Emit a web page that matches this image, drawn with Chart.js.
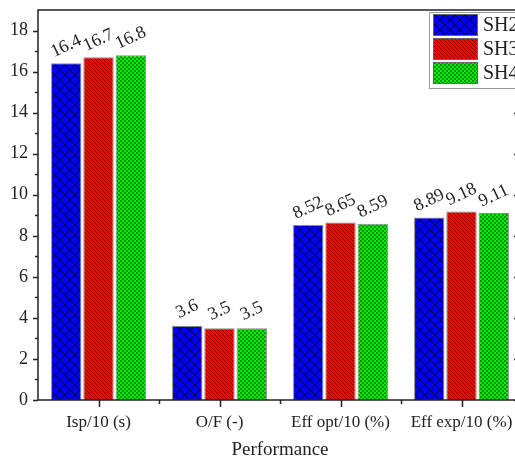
<!DOCTYPE html>
<html><head><meta charset="utf-8">
<script src="https://cdn.jsdelivr.net/npm/chart.js@4"></script>
<style>html,body{margin:0;padding:0;overflow:hidden;background:#fff}#wrap{width:530px;height:461px;position:relative}</style>
</head><body><div id="wrap"><canvas id="c" width="530" height="461"></canvas></div>
<script>
const categories = ['Isp/10 (s)', 'O/F (-)', 'Eff opt/10 (%)', 'Eff exp/10 (%)'];
const seriesNames = ['SH2', 'SH3', 'SH4'];
const sh2 = [16.4, 3.6, 8.52, 8.89];
const sh3 = [16.7, 3.5, 8.65, 9.18];
const sh4 = [16.8, 3.5, 8.59, 9.11];
const yTicks = [0, 2, 4, 6, 8, 10, 12, 14, 16, 18];
const yMinorTicks = [1, 3, 5, 7, 9, 11, 13, 15, 17];
const xTitle = 'Performance';

const SERIF = "'Liberation Serif', 'DejaVu Serif', serif";
const TXT = '#222';

function makePattern(kind) {
  const c = document.createElement('canvas');
  const g = c.getContext('2d');
  if (kind === 'blue') {
    c.width = 10; c.height = 10;
    g.fillStyle = '#0000ff'; g.fillRect(0, 0, 10, 10);
    g.strokeStyle = '#000060'; g.lineWidth = 1.2;
    g.beginPath();
    g.moveTo(-1, -1); g.lineTo(11, 11);
    g.moveTo(11, -1); g.lineTo(-1, 11);
    g.stroke();
  } else if (kind === 'red') {
    c.width = 4; c.height = 4;
    g.fillStyle = '#ff0000'; g.fillRect(0, 0, 4, 4);
    g.strokeStyle = '#900000'; g.lineWidth = 1;
    g.beginPath();
    g.moveTo(-1, -1); g.lineTo(5, 5);
    g.moveTo(3, -1); g.lineTo(5, 1);
    g.moveTo(-1, 3); g.lineTo(1, 5);
    g.stroke();
  } else {
    c.width = 4; c.height = 4;
    g.fillStyle = '#00f000'; g.fillRect(0, 0, 4, 4);
    g.fillStyle = '#009000';
    g.fillRect(0, 0, 2, 2); g.fillRect(2, 2, 2, 2);
  }
  return g.createPattern(c, 'repeat');
}

const patterns = [makePattern('blue'), makePattern('red'), makePattern('green')];
const seriesValues = [sh2, sh3, sh4];

const framePlugin = {
  id: 'frame',
  afterDraw(chart) {
    const { ctx, chartArea: a, scales } = chart;
    const ys = scales.y, xs = scales.x;
    ctx.save();
    ctx.strokeStyle = TXT; ctx.lineWidth = 1.5;
    ctx.strokeRect(a.left, a.top, a.right - a.left, a.bottom - a.top);
    ctx.beginPath();
    yTicks.forEach(v => {
      const y = Math.round(ys.getPixelForValue(v)) + 0.5;
      ctx.moveTo(a.left - 5, y); ctx.lineTo(a.left, y);
      ctx.moveTo(a.right - 8, y); ctx.lineTo(a.right, y);
    });
    yMinorTicks.forEach(v => {
      const y = Math.round(ys.getPixelForValue(v)) + 0.5;
      ctx.moveTo(a.left - 3, y); ctx.lineTo(a.left, y);
      ctx.moveTo(a.right - 4, y); ctx.lineTo(a.right, y);
    });
    categories.forEach((c, i) => {
      const x = Math.round(xs.getPixelForValue(i)) + 0.5;
      ctx.moveTo(x, a.bottom); ctx.lineTo(x, a.bottom + 7);
      if (i > 0) {
        const xm = Math.round((xs.getPixelForValue(i - 1) + xs.getPixelForValue(i)) / 2) + 0.5;
        ctx.moveTo(xm, a.bottom); ctx.lineTo(xm, a.bottom + 4);
      }
    });
    ctx.stroke();
    ctx.restore();
  }
};

const labelPlugin = {
  id: 'vlabels',
  afterDatasetsDraw(chart) {
    const { ctx } = chart;
    ctx.save();
    ctx.fillStyle = TXT;
    ctx.font = '18px ' + SERIF;
    ctx.textAlign = 'center';
    ctx.textBaseline = 'middle';
    chart.data.datasets.forEach((ds, di) => {
      const meta = chart.getDatasetMeta(di);
      meta.data.forEach((el, i) => {
        ctx.save();
        ctx.translate(el.x, el.y - 17);
        ctx.rotate(-25 * Math.PI / 180);
        ctx.fillText(String(ds.data[i]), 0, 0);
        ctx.restore();
      });
    });
    ctx.restore();
  }
};

const legendPlugin = {
  id: 'boxLegend',
  afterDraw(chart) {
    const { ctx } = chart;
    ctx.save();
    ctx.fillStyle = '#fff';
    ctx.fillRect(429.5, 12.5, 110, 76);
    ctx.strokeStyle = '#999'; ctx.lineWidth = 1;
    ctx.strokeRect(429.5, 12.5, 110, 76);
    ctx.font = '20px ' + SERIF;
    ctx.textBaseline = 'middle';
    ctx.textAlign = 'left';
    chart.data.datasets.forEach((ds, i) => {
      const y = 14.5 + i * 24;
      ctx.fillStyle = ds.backgroundColor;
      ctx.fillRect(433.5, y, 44, 21);
      ctx.strokeStyle = '#666';
      ctx.strokeRect(433.5, y, 44, 21);
      ctx.fillStyle = TXT;
      ctx.fillText(ds.label, 483, y + 11);
    });
    ctx.restore();
  }
};

new Chart(document.getElementById('c'), {
  type: 'bar',
  data: {
    labels: categories,
    datasets: seriesNames.map((n, i) => ({
      label: n,
      data: seriesValues[i],
      backgroundColor: patterns[i],
      borderColor: '#888',
      borderWidth: 1,
      categoryPercentage: 0.8,
      barPercentage: 0.94
    }))
  },
  options: {
    responsive: false,
    animation: false,
    devicePixelRatio: 1,
    layout: { padding: { top: 10, right: 8, left: 0, bottom: 0 } },
    plugins: { legend: { display: false }, tooltip: { enabled: false } },
    scales: {
      x: {
        offset: true,
        grid: { display: false },
        border: { display: false },
        ticks: { color: TXT, font: { family: SERIF, size: 17 }, padding: 4, maxRotation: 0, autoSkip: false },
        title: { display: true, text: xTitle, color: TXT, font: { family: SERIF, size: 19 }, padding: { top: 4, bottom: 0 } },
        afterFit(s) { s.height = 61; s.paddingLeft = 0; s.paddingRight = 0; }
      },
      y: {
        min: 0, max: 19,
        grid: { display: false },
        border: { display: false },
        afterBuildTicks(s) { s.ticks = yTicks.map(v => ({ value: v })); },
        ticks: { color: TXT, font: { family: SERIF, size: 18 }, padding: 2 },
        afterFit(s) { s.width = 38; s.paddingTop = 0; s.paddingBottom = 0; }
      }
    }
  },
  plugins: [labelPlugin, framePlugin, legendPlugin]
});
</script></body></html>
